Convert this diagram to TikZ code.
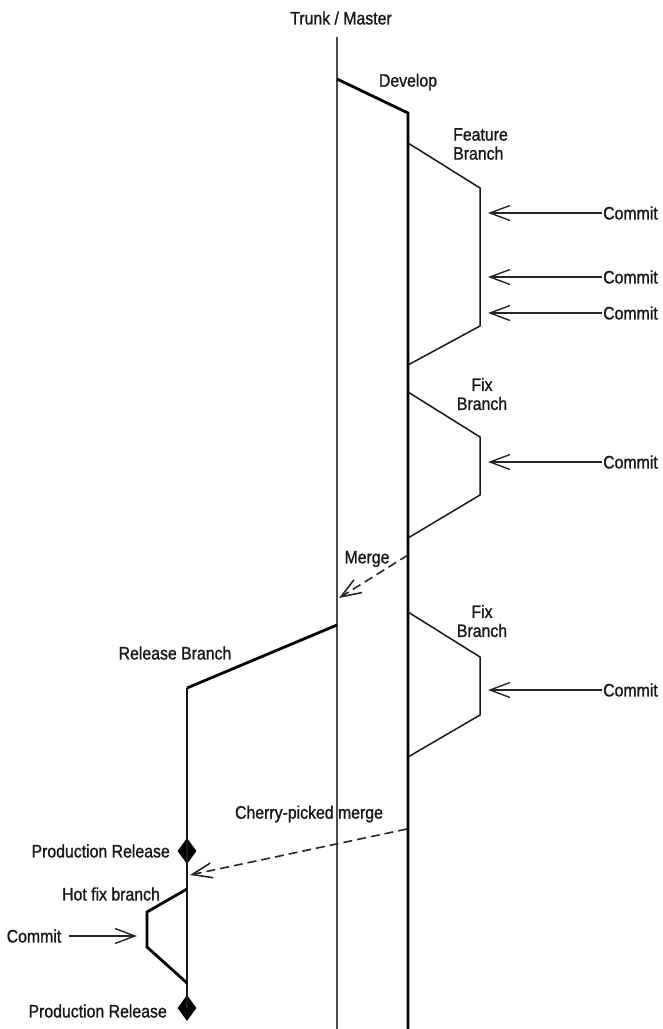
\documentclass[tikz,border=0pt]{standalone}
\usepackage{fontspec}
\setmainfont{Liberation Sans}[FakeStretch=0.88, FakeBold=1.2]
\usetikzlibrary{arrows.meta,positioning,shapes.geometric}
\tikzset{
  trunkl/.style={draw=black!70, line width=1.4pt},
  devl/.style={draw=black, line width=2.8pt, line join=miter},
  brl/.style={draw=black!90, line width=1.5pt, line join=miter},
  hotl/.style={draw=black, line width=2.8pt, line join=miter},
  ar/.style={-{Straight Barb[length=20pt, width=15pt]}, line width=1.4pt, draw=black!85},
  mrg/.style={ar, line width=1.6pt, dash pattern=on 9pt off 5pt},
  lbl/.style={font=\fontsize{18}{19}\selectfont, inner sep=1pt, text=black!90},
  relmark/.style={diamond, fill=black, inner sep=0pt, minimum width=19pt, minimum height=26pt},
}

\begin{document}
\begin{tikzpicture}[x=1pt, y=-1pt]
\useasboundingbox (0,0) rectangle (663,1029);

% ============================ trunk and develop ==========================
\node[lbl] (trunk) at (341,18) {Trunk / Master};
\draw[trunkl] (337,37) -- (337,1029);
\coordinate (d0) at (337,79);
\coordinate (d1) at (408,113);
\coordinate (d2) at (408,1029);
\draw[devl] (d0) -- (d1) -- (d2);
\node[lbl] (devel) at (408,82) {Develop};

% ============================ feature / fix branches =====================
\foreach \n/\ya/\yb/\yc/\yd in {feat/143/188/326/365, fixa/392/437/495/538, fixb/612/657/715/757}
{
  \coordinate (\n0) at (408,\ya);
  \coordinate (\n1) at (480,\yb);
  \coordinate (\n2) at (480,\yc);
  \coordinate (\n3) at (408,\yd);
  \draw[brl] (\n0) -- (\n1) -- (\n2) -- (\n3);
}
\node[lbl, anchor=west, align=left] (featlbl) at (452,144) {Feature\\Branch};
\node[lbl, align=center] (fixalbl) at (482,394) {Fix\\Branch};
\node[lbl, align=center] (fixblbl) at (482,621) {Fix\\Branch};

% ============================ commits ====================================
\foreach \i/\y in {1/213, 2/277, 3/313, 4/462, 5/690}
{
  \coordinate (t\i) at (488,\y);
  \node[lbl, anchor=west] (c\i) at (602,\y) {Commit};
  \draw[ar] (c\i.west) -- (t\i);
}

% ============================ merge ======================================
\coordinate (m0) at (408,555);
\coordinate (m1) at (339,598);
\draw[mrg] (m0) -- (m1);
\node[lbl] (mrglbl) at (367,559) {Merge};

% ============================ release branch =============================
\coordinate (r0) at (337,625);
\coordinate (r1) at (187,688);
\node[relmark] (pr1) at (187,851) {};
\node[relmark] (pr2) at (187,1008) {};
\draw[devl] (r0) -- (r1);
\draw[brl] (r1) -- (pr2.center);
\node[lbl] (rellbl) at (175,653) {Release Branch};
\node[lbl, anchor=east] (pr1lbl) at (171,851) {Production Release};
\node[lbl, anchor=east] (pr2lbl) at (168,1011) {Production Release};

% ============================ cherry-pick and hot fix ====================
\coordinate (cp0) at (407,829);
\coordinate (cp1) at (190,875);
\draw[mrg] (cp0) -- (cp1);
\node[lbl] (cplbl) at (309,814) {Cherry-picked merge};

\coordinate (h0) at (187,889);
\coordinate (h1) at (147,912);
\coordinate (h2) at (147,947);
\coordinate (h3) at (187,983);
\draw[hotl] (h0) -- (h1) -- (h2) -- (h3);
\node[lbl] (hotlbl) at (111,894) {Hot fix branch};
\node[lbl] (c6) at (34,936) {Commit};
\coordinate (t6) at (137,936);
\draw[ar] (c6.east) ++(7,0) -- (t6);

\end{tikzpicture}
\end{document}
